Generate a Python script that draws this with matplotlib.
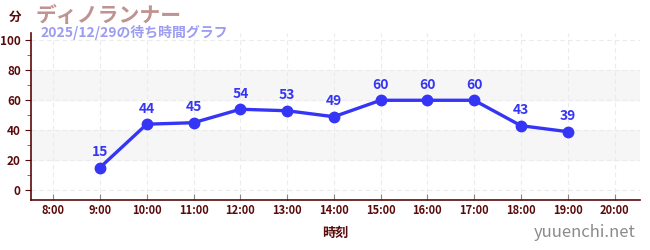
import matplotlib.pyplot as plt
from matplotlib.ticker import MultipleLocator

plt.rcParams['font.family'] = ['Noto Sans CJK JP', 'DejaVu Sans']

hours = [9, 10, 11, 12, 13, 14, 15, 16, 17, 18, 19]
waits = [15, 44, 45, 54, 53, 49, 60, 60, 60, 43, 39]
tick_hours = list(range(8, 21))
tick_labels = ['%d:00' % h for h in tick_hours]

title = 'ディノランナー'
subtitle = '2025/12/29の待ち時間グラフ'

dark = '#5a0a0a'
blue = '#3535f5'

fig = plt.figure(figsize=(6.5, 2.5), dpi=100)
ax = fig.add_axes([0.048, 0.2, 0.937, 0.668])

# shaded bands
for lo in (20, 60):
    ax.axhspan(lo, lo + 20, color='#f6f6f6', zorder=0)

ax.plot(hours, waits, color=blue, lw=2.4, marker='o', ms=7.5, zorder=3)
for h, w in zip(hours, waits):
    ax.annotate(str(w), (h, w), xytext=(0, 6), textcoords='offset points',
                ha='center', va='bottom', color=blue, fontsize=10, fontweight='bold')

ax.set_xlim(7.53, 20.55)
ax.set_ylim(-6.7, 105)
ax.set_xticks(tick_hours)
ax.set_xticklabels(tick_labels, fontweight='bold')
ax.set_yticks(range(0, 101, 20))
ax.set_yticklabels([str(v) for v in range(0, 101, 20)], fontweight='bold')
ax.yaxis.set_minor_locator(MultipleLocator(10))
ax.grid(True, which='major', color='#ebebeb', ls=(0, (4, 3)), lw=0.8)
ax.set_axisbelow(True)

for s in ('top', 'right'):
    ax.spines[s].set_visible(False)
for s in ('left', 'bottom'):
    ax.spines[s].set_color(dark)
    ax.spines[s].set_linewidth(1.2)

ax.tick_params(axis='y', which='major', colors=dark, labelsize=8.5, length=4)
ax.tick_params(axis='y', which='minor', color='#dd2222', length=3)
ax.tick_params(axis='x', which='major', color='#888888', labelcolor=dark, labelsize=8,
               length=4, direction='in', pad=3)

ax.set_xlabel('時刻', color=dark, fontsize=9.5, fontweight='bold', labelpad=6)

fig.text(0.023, 0.93, '分', color=dark, fontsize=9, fontweight='bold', ha='center', va='center')
fig.text(0.054, 0.94, title, color='#c09393', fontsize=15, fontweight='bold', va='center')
fig.text(0.062, 0.872, subtitle, color='#9c9cf0', fontsize=10, fontweight='bold', va='center')
fig.text(0.978, 0.07, 'yuuenchi.net', color='#8a8a8a', fontsize=12, ha='right', va='center')

fig.savefig('out.png', dpi=100)
